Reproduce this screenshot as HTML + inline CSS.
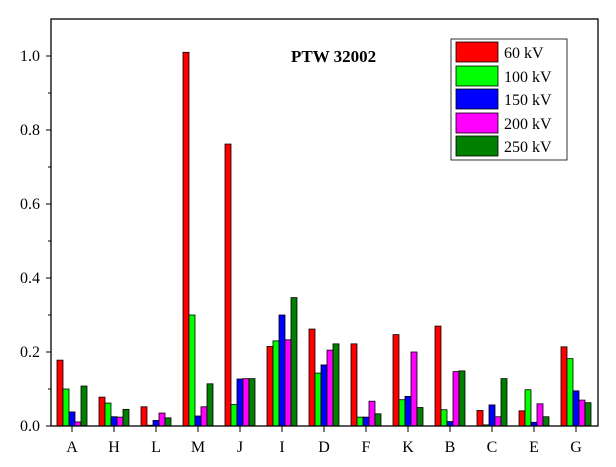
<!DOCTYPE html>
<html><head><style>body{margin:0;background:#fff}svg{display:block}</style></head><body>
<svg width="616" height="467" xmlns="http://www.w3.org/2000/svg" font-family="Liberation Serif, serif">
<rect width="616" height="467" fill="#fff"/>
<g id="bars" stroke="#000" stroke-width="0.8"></g>
<rect x="51" y="19" width="547" height="407" fill="none" stroke="#000" stroke-width="1.3"/>
<g stroke="#000" stroke-width="1" id="ticks"></g>
<g font-size="16" text-anchor="end" fill="#000">
<text x="40" y="431">0.0</text><text x="40" y="357">0.2</text><text x="40" y="283">0.4</text><text x="40" y="209">0.6</text><text x="40" y="135">0.8</text><text x="40" y="61">1.0</text>
</g>
<g font-size="16" text-anchor="middle" id="xl"></g>
<text x="291" y="62" font-size="17" font-weight="bold">PTW 32002</text>
<rect x="451" y="39" width="116" height="121" fill="#fff" stroke="#000" stroke-width="0.8"/>
<g stroke="#000" stroke-width="0.8">
<rect x="456" y="42" width="42" height="20" fill="#ff0000"/>
<rect x="456" y="66" width="42" height="20" fill="#00ff00"/>
<rect x="456" y="89" width="42" height="20" fill="#0000ff"/>
<rect x="456" y="113" width="42" height="20" fill="#ff00ff"/>
<rect x="456" y="136" width="42" height="20" fill="#008000"/>
</g>
<g font-size="16"><text x="504" y="58">60 kV</text><text x="504" y="82">100 kV</text><text x="504" y="105">150 kV</text><text x="504" y="129">200 kV</text><text x="504" y="152">250 kV</text></g>
<script>
var cats="AHLMJIDFKBCEG".split("");
var d=[[.178,.1,.038,.011,.108],[.078,.062,.025,.024,.045],[.052,.002,.015,.035,.022],[1.01,.3,.027,.052,.114],[.762,.058,.127,.128,.128],[.215,.23,.3,.233,.347],[.262,.143,.165,.205,.222],[.222,.024,.024,.067,.033],[.247,.071,.08,.2,.05],[.27,.044,.012,.147,.149],[.042,.003,.057,.025,.128],[.041,.098,.01,.06,.025],[.214,.182,.095,.07,.063]];
var col=["#ff0000","#00ff00","#0000ff","#ff00ff","#008000"];
var ns="http://www.w3.org/2000/svg",b=document.getElementById("bars"),t=document.getElementById("ticks"),xl=document.getElementById("xl");
function el(p,n,a){var e=document.createElementNS(ns,n);for(var k in a)e.setAttribute(k,a[k]);p.appendChild(e);return e;}
for(var i=0;i<13;i++){var c=72+42*i;for(var j=0;j<5;j++){var h=d[i][j]*370;el(b,"rect",{x:c-15+6*j,y:426-h,width:6,height:h,fill:col[j]});}
el(t,"line",{x1:c,y1:426,x2:c,y2:432});var tx=el(xl,"text",{x:c,y:452});tx.textContent=cats[i];}
for(var k=0;k<=10;k++){var y=426-37*k;el(t,"line",{x1:k%2?48:46,y1:y,x2:51,y2:y});}
</script>
</svg>
</body></html>
